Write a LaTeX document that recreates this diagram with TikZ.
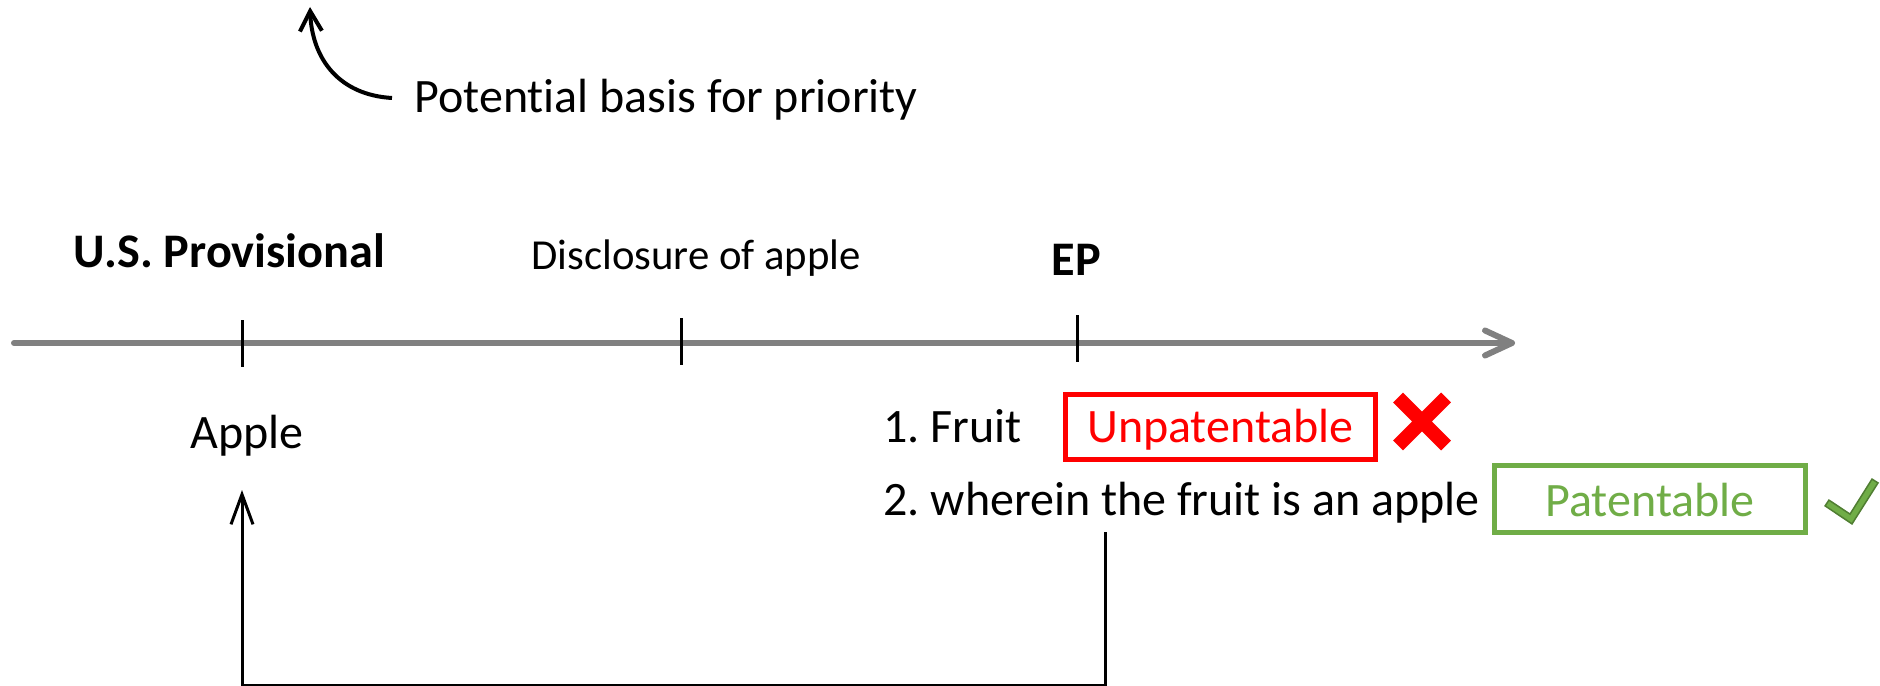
\documentclass[tikz,border=0pt]{standalone}
\usepackage{fontspec}
\setmainfont{Carlito}[Ligatures={NoCommon}]
\usetikzlibrary{arrows.meta}
\frenchspacing
\newdimen\pxu \pxu=0.4pt
\definecolor{axisgray}{HTML}{808080}
\definecolor{nogo}{HTML}{FF0000}
\definecolor{okgreen}{HTML}{70AD47}
\definecolor{okdark}{HTML}{507E32}
\begin{document}
\begin{tikzpicture}[x=0.4pt,y=-0.4pt,
  lbl/.style={inner sep=0pt, anchor=base west, font=\fontsize{19.2}{23}\selectfont},
  lblb/.style={lbl, font=\fontsize{19.3}{23}\selectfont\bfseries},
  lbls/.style={lbl, font=\fontsize{17.1}{20}\selectfont},
  axis/.style={axisgray, line width=6\pxu, line cap=round, line join=round},
  tickmark/.style={line width=3\pxu},
  verdict/.style={draw, line width=5\pxu, inner sep=0pt,
    font=\fontsize{19.2}{23}\selectfont, text height=15.6pt, text depth=3.6pt},
  link/.style={line width=3\pxu, -{Straight Barb[length=12pt,width=8.8pt]}},
  hint/.style={line width=4\pxu, -{Straight Barb[length=8pt,width=8.8pt]}}]
\useasboundingbox (0,0) rectangle (1880,686);

% time axis
\coordinate (tl0) at (14,343);
\coordinate (tl1) at (1512,343);
\draw[axis] (tl0) -- (tl1);
\draw[axis] (tl1) ++(-27,-12.5) -- (tl1) -- ++(-27,12.5);

% ticks on the axis
\coordinate (tA) at (242,343);
\coordinate (tB) at (681,343);
\coordinate (tC) at (1077,343);
\draw[tickmark] (tA) ++(0,-23) -- ++(0,47);
\draw[tickmark] (tB) ++(0,-25) -- ++(0,47);
\draw[tickmark] (tC) ++(0,-28) -- ++(0,47);

% labels above the axis
\node[lblb] (usprov) at (73,268) {U.S. Provisional};
\node[lbls] (discl) at (531,270) {Disclosure of apple};
\node[lblb] (ep) at (1051,275) {EP};

% priority note
\node[lbl] (basis) at (414,113) {Potential basis for priority};
\coordinate (basisfoot) at (392,98);
\coordinate (basistip) at (310,7);
\draw[hint] (basisfoot) .. controls (340,95) and (312,60) .. (basistip);

% contents below the axis
\node[lbl] (apple) at (190,448) {Apple};
\node[lbl] (claim1) at (883,442) {1. Fruit};
\node[lbl] (claim2) at (883,515) {2. wherein the fruit is an apple};

% verdicts
\node[verdict, nogo, minimum width=310\pxu, minimum height=65\pxu] (unpat) at (1220.5,427) {Unpatentable};
\node[verdict, okgreen, minimum width=311\pxu, minimum height=67\pxu,
  text height=16pt, text depth=2.4pt] (pat) at (1650,499) {Patentable};

% cross mark
\draw[nogo, line width=14\pxu] (1398,397.5) -- (1446,445.5) (1446,397.5) -- (1398,445.5);

% check mark
\draw[okdark, fill=okgreen, line width=1.5\pxu, line join=miter]
  (1825.1,505.9) -- (1852,523.9) -- (1878,482.9) -- (1872,479.1)
  -- (1850,514.1) -- (1828.9,500.1) -- cycle;

% claim 2 finds support in the provisional
\coordinate (rise) at (1105,532);
\coordinate (aptip) at (242,490);
\draw[link] (rise) -- (rise |- 0,685) -| (aptip);
\end{tikzpicture}
\end{document}
